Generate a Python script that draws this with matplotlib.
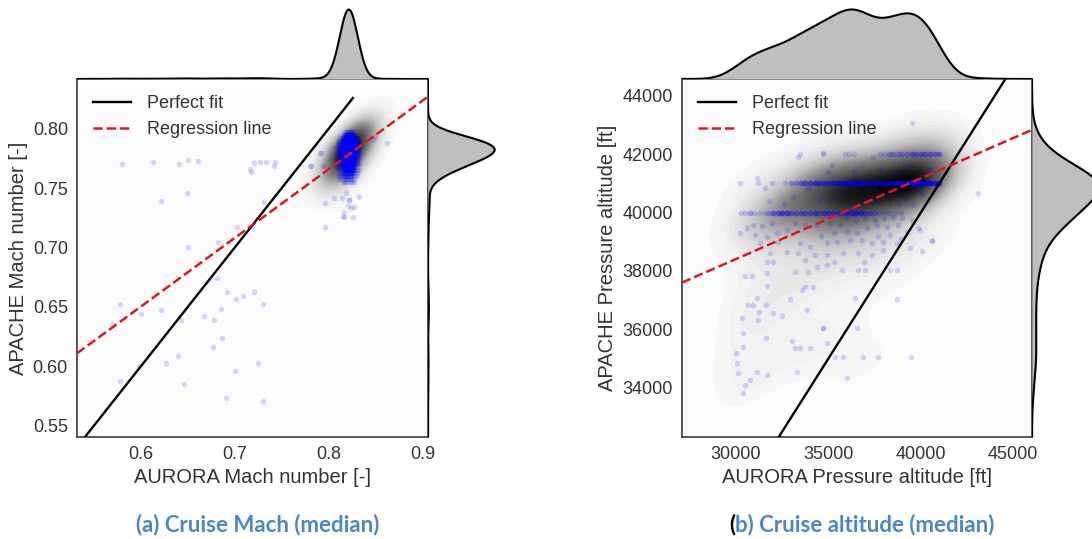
import numpy as np
import matplotlib
matplotlib.use("Agg")
import matplotlib.pyplot as plt
from matplotlib.colors import PowerNorm
from matplotlib.ticker import FormatStrFormatter

plt.rcParams["font.family"] = ["Liberation Sans", "DejaVu Sans"]

# ---------------------------------------------------------------- data
# (a) cruise Mach: the dense group of flights as a count table
mach_cluster_aurora_bins = [0.8075, 0.810, 0.8125, 0.815, 0.8175, 0.820,
                            0.8225, 0.825, 0.8275, 0.830, 0.8325, 0.835]
mach_cluster_apache_bins = [0.7975, 0.795, 0.7925, 0.790, 0.7875, 0.785,
                            0.7825, 0.780, 0.7775, 0.775, 0.7725, 0.770,
                            0.7675, 0.765, 0.7625, 0.760, 0.7575, 0.755]
mach_cluster_counts = [
    [0, 0, 0, 0, 1, 2, 3, 2, 1, 0, 0, 0],
    [0, 0, 0, 1, 3, 6, 7, 5, 3, 1, 0, 0],
    [0, 0, 1, 3, 7, 12, 14, 10, 6, 2, 0, 0],
    [0, 1, 2, 5, 10, 16, 18, 14, 8, 3, 1, 0],
    [0, 1, 3, 6, 12, 18, 20, 16, 9, 4, 1, 0],
    [1, 1, 3, 7, 13, 19, 21, 17, 10, 4, 1, 1],
    [0, 1, 3, 7, 13, 18, 20, 16, 9, 4, 1, 0],
    [1, 1, 3, 6, 12, 17, 18, 15, 8, 3, 1, 1],
    [0, 1, 3, 6, 11, 15, 16, 13, 7, 3, 1, 0],
    [1, 1, 2, 5, 10, 13, 14, 11, 6, 2, 1, 0],
    [0, 1, 2, 4, 8, 11, 12, 9, 5, 2, 0, 0],
    [1, 1, 2, 4, 7, 9, 10, 8, 4, 2, 1, 0],
    [0, 1, 2, 3, 5, 7, 8, 6, 3, 1, 0, 0],
    [0, 1, 1, 3, 4, 6, 6, 5, 3, 1, 1, 0],
    [0, 0, 1, 2, 3, 4, 4, 3, 2, 1, 0, 0],
    [0, 1, 1, 2, 2, 3, 3, 2, 1, 1, 0, 0],
    [0, 0, 1, 1, 1, 2, 2, 1, 1, 0, 0, 0],
    [0, 0, 0, 1, 1, 1, 1, 1, 1, 0, 0, 0],
]

# (a) individual flights away from the dense group
mach_aurora_pts = [
    0.580, 0.613, 0.641, 0.6505, 0.661, 0.649, 0.621, 0.716, 0.717, 0.721,
    0.727, 0.733, 0.743, 0.742, 0.731, 0.703, 0.719, 0.682, 0.6505, 0.780,
    0.7905, 0.796, 0.796, 0.806, 0.814, 0.822, 0.822, 0.833, 0.817, 0.824,
    0.826, 0.819, 0.849, 0.862, 0.847, 0.816, 0.821, 0.827, 0.815, 0.7916,
    0.781, 0.7937,
    0.681, 0.692, 0.701, 0.709, 0.721, 0.730, 0.578, 0.5695, 0.600, 0.621,
    0.643, 0.667, 0.678, 0.685, 0.6865, 0.677, 0.640, 0.627, 0.598, 0.700,
    0.725, 0.578, 0.646, 0.6905, 0.7305,
]
mach_apache_pts = [
    0.770, 0.772, 0.7705, 0.774, 0.773, 0.746, 0.739, 0.766, 0.764, 0.771,
    0.772, 0.772, 0.772, 0.769, 0.738, 0.7175, 0.717, 0.705, 0.7005, 0.769,
    0.780, 0.717, 0.7375, 0.742, 0.742, 0.740, 0.740, 0.743, 0.730, 0.733,
    0.726, 0.746, 0.793, 0.788, 0.791, 0.726, 0.735, 0.734, 0.7267, 0.780,
    0.769, 0.769,
    0.674, 0.6626, 0.657, 0.659, 0.6626, 0.6525, 0.6525, 0.636, 0.644, 0.6475,
    0.639, 0.6425, 0.639, 0.648, 0.624, 0.6165, 0.6086, 0.6027, 0.600, 0.596,
    0.6027, 0.5875, 0.585, 0.573, 0.5707,
]
mach_reg_slope = 0.578
mach_reg_intercept = 0.3035

# (b) cruise altitude: APACHE reports flight levels FL400 / FL410 / FL420
fl400_aurora = [30250, 30500, 30750, 31000, 31250, 31500, 31750, 32000, 32250,
                32500, 32750, 33000, 33250, 33500, 33750, 34000, 34250, 34500,
                34750, 35000, 35250, 35500, 35750, 36000, 36250, 36500, 36750,
                37000, 37250, 37500, 37750, 38000, 38250, 38600, 38900]
fl400_count = [1, 1, 2, 1, 1, 1, 2, 4, 4, 5, 5, 3, 3, 3, 3, 3, 4, 3, 4, 4, 4, 3,
               4, 6, 6, 6, 5, 3, 3, 2, 1, 1, 1, 1, 1]
fl410_aurora = [30200, 31200, 31950, 32650, 33000, 33250, 33500, 33750, 34000,
                34250, 34500, 34750, 35000, 35250, 35500, 35750, 36000, 36250,
                36500, 36750, 37000, 37250, 37500, 37750, 38000, 38250, 38500,
                38750, 39000, 39250, 39500, 39750, 40000, 40250, 40500, 40750,
                41000]
fl410_count = [1, 1, 1, 1, 2, 2, 3, 4, 4, 5, 5, 5, 5, 6, 6, 7, 8, 8, 8, 8, 7, 6,
               6, 6, 6, 7, 8, 9, 9, 10, 10, 10, 10, 10, 10, 9, 6]
fl420_aurora = [33460, 34700, 35900, 36100, 36400, 37800, 38000, 38250, 38500,
                38750, 39000, 39250, 39500, 39750, 40000, 40250, 40500, 40750,
                41000]
fl420_count = [1, 1, 1, 1, 1, 1, 1, 2, 2, 2, 2, 2, 3, 3, 3, 3, 3, 3, 3]

# (b) flights off the standard levels
alt_aurora_pts = [
    30220, 30580, 30920, 31390, 31930, 31030, 31660, 32200, 32740, 33200,
    33740, 34370, 35090, 35630, 35990, 36530, 37070, 37610, 38150, 38330,
    38780, 39240, 39870, 40590, 40050, 31300, 32290, 33460, 34000, 34910,
    35450, 36170, 36800, 37340, 37970, 38700, 31840, 32740, 33370, 34270,
    34910, 35810, 36620, 37340, 37970, 31660, 32020, 33740, 34370, 34910,
    35720, 36620, 36980, 38330, 38700, 30490, 30850, 31660, 33200, 33910,
    38700, 36440, 33740, 33560, 34180, 32920, 31690, 31120, 30670, 30940,
    31260, 31620, 30310, 31210, 32020, 32470, 33830, 36530, 34720, 34720,
    30400, 31620, 33010, 33200, 33460, 34000, 34910, 35360, 35810, 36860,
    37700, 39450, 30400, 29990, 30040, 30090, 31120, 31660, 30760, 30490,
    30360, 33280, 35990, 39510, 43110, 40590, 39960, 31120, 31570, 33370,
    34720, 35180, 37430, 40050, 35250, 33100, 38240, 40230,
    36000, 36500, 37000, 37500, 38000, 38500, 39000, 39500, 38800, 39200,
    39600, 37600, 36800, 36200, 34500, 35800, 37200, 38400, 39800, 36400,
    37800, 38600, 39300, 40500, 35000, 33900, 32600, 31800, 38900, 37700,
    36900, 35300, 39400, 35300, 34600,
]
alt_apache_pts = [
    39310, 39460, 39570, 39540, 39630, 39230, 39170, 39290, 39400, 39630,
    39570, 39570, 39630, 39570, 39340, 39290, 39460, 39570, 39510, 39230,
    39570, 39340, 39460, 39030, 38690, 38950, 39000, 38950, 38830, 38950,
    39000, 39060, 39060, 38950, 39000, 38950, 38600, 38660, 38600, 38540,
    38540, 38620, 38600, 38540, 38710, 38320, 38320, 38380, 38150, 38200,
    38030, 38030, 38030, 38030, 38030, 37840, 37840, 37920, 37970, 37970,
    37030, 37060, 37460, 37350, 37460, 37030, 37480, 37060, 36830, 36830,
    36600, 36830, 36380, 36320, 36550, 36460, 36660, 36030, 36030, 36030,
    35880, 35690, 35610, 35350, 35350, 35350, 35540, 35040, 35040, 35040,
    35040, 35040, 35380, 35180, 34840, 34490, 34550, 34430, 34260, 34090,
    33830, 34530, 34320, 43080, 40660, 39060, 39400, 41170, 40830, 41910,
    42050, 41630, 41910, 40680, 40540, 40540, 40600, 41340,
    39800, 39700, 39800, 39750, 39800, 39850, 39800, 39750, 40300, 40450,
    40300, 40400, 40500, 40300, 40400, 40650, 40700, 40800, 40800, 41400,
    41500, 41400, 41600, 41500, 41400, 40800, 40300, 40400, 39100, 39200,
    38300, 38300, 38800, 39300, 39200,
]
alt_reg_slope = 0.2763
alt_reg_intercept = 30118

mach_ticks_x = [0.6, 0.7, 0.8, 0.9]
mach_ticks_y = [0.55, 0.60, 0.65, 0.70, 0.75, 0.80]
alt_ticks_x = [30000, 35000, 40000, 45000]
alt_ticks_y = [34000, 36000, 38000, 40000, 42000, 44000]

# ---------------------------------------------------------------- helpers
TEXT = "#333333"
SPINE = "#3a3a3a"
BLUE_CAP = "#4a86c8"
FILL = "#bfbfbf"


def weighted_std(values, weights):
    n = weights.sum()
    mean = np.average(values, weights=weights)
    return np.sqrt(np.sum(weights * (values - mean) ** 2) / (n - 1))


def kde1d(values, weights, grid, adjust=1.0):
    n = weights.sum()
    bw = weighted_std(values, weights) * n ** (-1 / 5) * adjust
    z = np.exp(-0.5 * ((grid[:, None] - values[None, :]) / bw) ** 2) @ weights
    return z / (n * bw * np.sqrt(2 * np.pi))


def kde2d(x, y, w, adjust=1.0, cut=2.5, size=200):
    n = w.sum()
    cov = np.cov(np.vstack([x, y]), fweights=w) * (n ** (-1 / 6) * adjust) ** 2
    bx, by = np.sqrt(np.diag(cov))
    gx = np.linspace(x.min() - cut * bx, x.max() + cut * bx, size)
    gy = np.linspace(y.min() - cut * by, y.max() + cut * by, size)
    inv = np.linalg.inv(cov)
    X, Y = np.meshgrid(gx, gy)
    dx = X.ravel()[:, None] - x[None, :]
    dy = Y.ravel()[:, None] - y[None, :]
    q = inv[0, 0] * dx * dx + 2 * inv[0, 1] * dx * dy + inv[1, 1] * dy * dy
    z = np.exp(-0.5 * q) @ w
    return X, Y, z.reshape(X.shape)


def joint_panel(fig, rect, x, y, w, xlim, ylim, xticks, yticks, xlabel,
                ylabel, fmts, reg, fit_span, ylabel_x, bw2d, bw_top, bw_side):
    left, bottom, width, height = rect
    fw, fh = fig.get_size_inches() * fig.dpi
    ax = fig.add_axes([left / fw, 1 - bottom / fh, width / fw, height / fh])
    ax_top = fig.add_axes([left / fw, 1 - (bottom - height) / fh,
                           width / fw, 73 / fh], sharex=ax)
    ax_right = fig.add_axes([(left + width) / fw, 1 - bottom / fh,
                             70 / fw, height / fh], sharey=ax)

    # bivariate density shading
    X, Y, Z = kde2d(x, y, w, adjust=bw2d)
    levels = np.linspace(0, Z.max(), 45)
    ax.contourf(X, Y, Z, levels=levels, cmap="Greys",
                norm=PowerNorm(0.8, vmin=0, vmax=Z.max()), zorder=0)

    # individual flights
    ax.scatter(np.repeat(x, w), np.repeat(y, w), s=16, c="blue", alpha=0.15,
               linewidths=0, zorder=2)

    ax.plot(fit_span, fit_span, color="black", lw=1.7, zorder=3,
            label="Perfect fit")
    ax.axline((0, reg[1]), slope=reg[0], color="#e3161b", lw=1.8, ls="--",
              zorder=4, label="Regression line")

    ax.set_xticks(xticks)
    ax.set_yticks(yticks)
    ax.xaxis.set_major_formatter(fmts[0])
    ax.yaxis.set_major_formatter(fmts[1])
    ax.tick_params(length=0, pad=6.5, labelsize=13, colors=TEXT)
    for s in ax.spines.values():
        s.set_color(SPINE)
        s.set_linewidth(1.2)
    ax.set_xlabel(xlabel, fontsize=14.5, color=TEXT, va="center")
    ax.xaxis.set_label_coords(0.5, -0.112)
    ax.set_ylabel(ylabel, fontsize=14.5, color=TEXT, va="center")
    ax.yaxis.set_label_coords(ylabel_x, 0.5)
    ax.legend(loc="upper left", frameon=False, fontsize=13, handlelength=2.1,
              handletextpad=0.9, labelspacing=0.5, borderaxespad=0.5,
              labelcolor=TEXT)

    # marginal densities
    span_x = xlim[1] - xlim[0]
    mx = np.linspace(xlim[0] - 0.1 * span_x, xlim[1] + 0.1 * span_x, 400)
    zx = kde1d(x, w, mx, bw_top)
    ax_top.fill_between(mx, zx, color=FILL, lw=0)
    ax_top.plot(mx, zx, color="black", lw=1.5)
    ax_top.set_ylim(0, zx.max() * 1.05)

    span_y = ylim[1] - ylim[0]
    my = np.linspace(ylim[0] - 0.1 * span_y, ylim[1] + 0.1 * span_y, 400)
    zy = kde1d(y, w, my, bw_side)
    ax_right.fill_betweenx(my, zy, color=FILL, lw=0)
    ax_right.plot(zy, my, color="black", lw=1.5)
    ax_right.set_xlim(0, zy.max() * 1.05)

    for m in (ax_top, ax_right):
        m.set_axis_off()
    ax.set_xlim(xlim)
    ax.set_ylim(ylim)
    return ax


fig = plt.figure(figsize=(10.92, 5.39), dpi=100)

# (a) Mach
cx, cy = np.meshgrid(mach_cluster_aurora_bins, mach_cluster_apache_bins)
cn = np.array(mach_cluster_counts)
keep = cn.ravel() > 0
mx_all = np.concatenate([cx.ravel()[keep], mach_aurora_pts])
my_all = np.concatenate([cy.ravel()[keep], mach_apache_pts])
mw_all = np.concatenate([cn.ravel()[keep], np.ones(len(mach_aurora_pts), int)])
joint_panel(fig, (77, 437, 351, 358), mx_all, my_all, mw_all,
            (0.532, 0.906), (0.5405, 0.842), mach_ticks_x, mach_ticks_y,
            "AURORA Mach number [-]", "APACHE Mach number [-]",
            (FormatStrFormatter("%.1f"), FormatStrFormatter("%.2f")),
            (mach_reg_slope, mach_reg_intercept), [0.50, 0.826], -0.168,
            bw2d=1.7, bw_top=1.0, bw_side=1.0)

# (b) altitude
ax_all = np.array(fl400_aurora + fl410_aurora + fl420_aurora + alt_aurora_pts,
                  dtype=float)
ay_all = np.array([40000] * len(fl400_aurora) + [41000] * len(fl410_aurora)
                  + [42000] * len(fl420_aurora) + alt_apache_pts, dtype=float)
aw_all = np.array(fl400_count + fl410_count + fl420_count
                  + [1] * len(alt_aurora_pts))
joint_panel(fig, (682, 437, 350, 358), ax_all, ay_all, aw_all,
            (27078, 46012), (32312, 44572), alt_ticks_x, alt_ticks_y,
            "AURORA Pressure altitude [ft]", "APACHE Pressure altitude [ft]",
            (FormatStrFormatter("%d"), FormatStrFormatter("%d")),
            (alt_reg_slope, alt_reg_intercept), [25000, 47000], -0.214,
            bw2d=1.2, bw_top=1.0, bw_side=1.4)

# captions
cap_font = dict(family=["Lato", "DejaVu Sans"], fontweight="bold", fontsize=16)
cap_y = 1 - 525 / 539
fig.text(258 / 1092, cap_y, "(a) Cruise Mach (median)",
         color=BLUE_CAP, ha="center", va="center", **cap_font)
paren = fig.text(729 / 1092, cap_y, "(", color="black", ha="left",
                 va="center", **cap_font)
fig.canvas.draw()
bb = paren.get_window_extent()
fig.text(bb.x1 / 1092, cap_y, "b) Cruise altitude (median)",
         color=BLUE_CAP, ha="left", va="center", **cap_font)

fig.savefig("out.png", dpi=100)
